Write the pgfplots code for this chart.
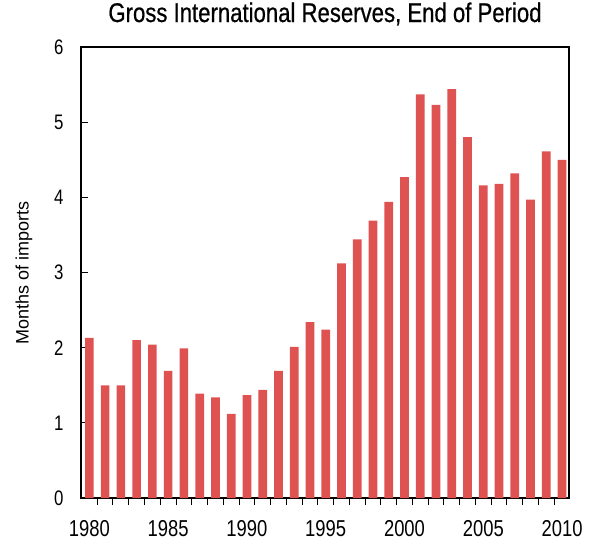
\documentclass[border=0pt]{standalone}
\usepackage{fontspec}
\setmainfont{Liberation Sans}[FakeStretch=0.8]
\newfontfamily\labelfont{Liberation Sans}
\newfontfamily\titlefont{Liberation Sans}[FakeStretch=0.82, FakeBold=0.6]
\usepackage{pgfplots}
\pgfplotsset{compat=1.18}
\definecolor{barred}{RGB}{222,82,82}
\begin{document}
\begin{tikzpicture}
\begin{axis}[
  scale only axis,
  width=488pt, height=451pt,
  xmin=1979.47, xmax=2010.44,
  ymin=0, ymax=6,
  ytick={0,1,2,3,4,5,6},
  xtick={1980,1985,1990,1995,2000,2005,2010},
  minor xtick={1980.5,1981.5,...,2009.5},
  major x tick style={draw=none},
  minor tick length=7pt,
  major tick length=7pt,
  tick align=inside,
  tick pos=left,
  tick style={black, line width=1pt},
  axis line style={black, line width=1.2pt},
  /pgf/number format/assume math mode=true,
  /pgf/number format/1000 sep={},
  xticklabel style={font=\fontsize{23}{25}\selectfont, yshift=-12pt},
  yticklabel style={font=\fontsize{21}{23}\selectfont, xshift=-14pt},
  title={Gross International Reserves, End of Period},
  title style={font=\titlefont\fontsize{27}{30}\selectfont, at={(axis description cs:0.5,1)}, anchor=base, yshift=19pt, inner sep=0pt},
  ylabel={Months of imports},
  every axis y label/.style={at={(axis description cs:-0.117,0.5)}, rotate=90, anchor=center, font=\labelfont\fontsize{18}{20}\selectfont},
  ybar, bar width=8.7pt, bar shift=0pt,
  clip=false,
]
\addplot[fill=barred, draw=none] coordinates {
(1980,2.13) (1981,1.50) (1982,1.50) (1983,2.10) (1984,2.04) (1985,1.69)
(1986,1.99) (1987,1.39) (1988,1.34) (1989,1.12) (1990,1.37) (1991,1.44)
(1992,1.69) (1993,2.01) (1994,2.34) (1995,2.24) (1996,3.12) (1997,3.44)
(1998,3.69) (1999,3.94) (2000,4.27) (2001,5.37) (2002,5.23) (2003,5.44)
(2004,4.80) (2005,4.16) (2006,4.18) (2007,4.32) (2008,3.97) (2009,4.61)
(2010,4.50)
};
\end{axis}
\path[use as bounding box] (-81pt,-44pt) rectangle (510pt,498pt);
\end{tikzpicture}
\end{document}
